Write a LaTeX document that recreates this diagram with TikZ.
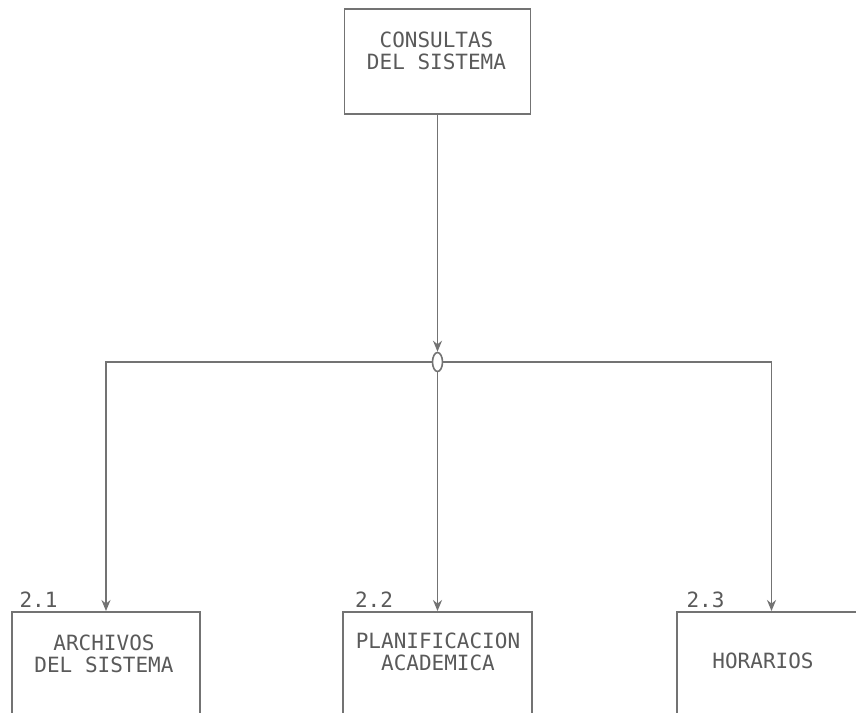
\documentclass[tikz,border=0pt]{standalone}
\usepackage{fontspec}
\setmonofont{DejaVu Sans Mono}
\usetikzlibrary{shapes.geometric,arrows.meta}
\definecolor{linegray}{RGB}{115,115,115}
\definecolor{textgray}{RGB}{90,90,90}
\begin{document}
\begin{tikzpicture}[x=1pt,y=-1pt,
  box/.style={draw=linegray, line width=1.6pt, rectangle, inner sep=0pt, anchor=north},
  txt/.style={text=textgray, font=\ttfamily\fontsize{21}{22}\selectfont, align=center, inner sep=0pt},
  num/.style={text=textgray, font=\ttfamily\fontsize{21}{22}\selectfont, inner sep=0pt},
  arr/.style={draw=linegray, line width=1.6pt, -{Stealth[length=11pt,width=9pt]}},
  junction/.style={draw=linegray, line width=1.6pt, ellipse, minimum width=10pt, minimum height=19pt, inner sep=0pt, fill=white}]
\path[use as bounding box, clip] (0,0) rectangle (856,712);
\fill[white] (0,0) rectangle (856,712);
% top box
\node[box, minimum width=186pt, minimum height=105pt] (top) at (437.5,8) {};
\node[txt] (toptxt) at (436.5,50.5) {CONSULTAS\\DEL SISTEMA};
% junction
\node[junction] (j) at (437.5,362) {};
% bottom boxes
\node[box, minimum width=188pt, minimum height=150pt] (b1) at (106,611) {};
\node[box, minimum width=189pt, minimum height=150pt] (b2) at (437.5,611) {};
\node[box, minimum width=189pt, minimum height=150pt] (b3) at (771.5,611) {};
\node[txt] (t1) at (104,653.5) {ARCHIVOS\\DEL SISTEMA};
\node[txt] (t2) at (438,652) {PLANIFICACION\\ACADEMICA};
\node[txt] (t3) at (763,660.5) {HORARIOS};
\node[num] (n1) at (38.5,600) {2.1};
\node[num] (n2) at (374,600) {2.2};
\node[num] (n3) at (705.5,600) {2.3};
% connectors
\draw[arr] (top.south) -- (j.north);
\draw[arr] (j.west) -| (b1.north);
\draw[arr] (j.east) -| (b3.north);
\draw[arr] (j.south) -- (b2.north);
\end{tikzpicture}
\end{document}
